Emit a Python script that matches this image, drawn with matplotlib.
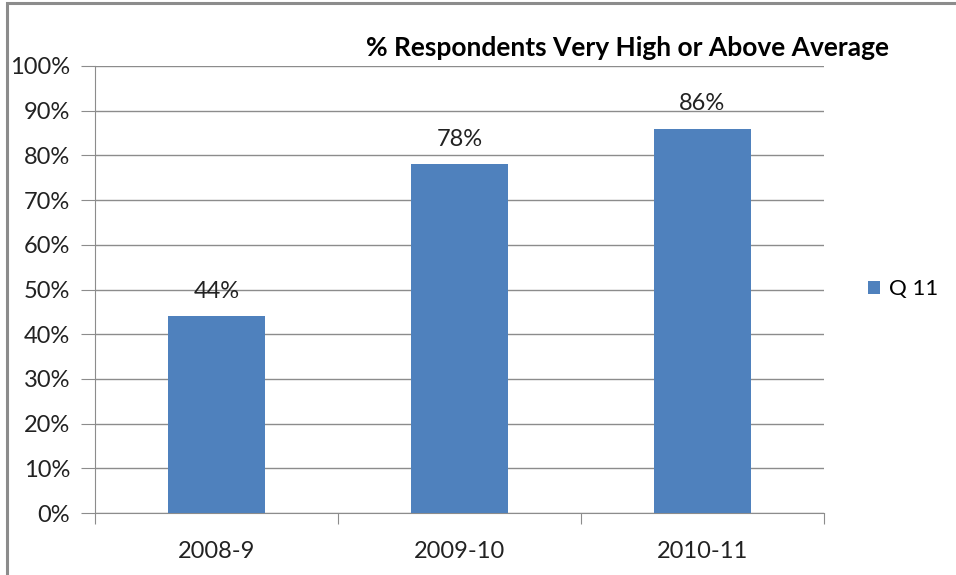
import matplotlib.pyplot as plt
from matplotlib.patches import Rectangle
from matplotlib.ticker import MultipleLocator, FuncFormatter

years = ['2008-9', '2009-10', '2010-11']
q11 = [44, 78, 86]

plt.rcParams['font.family'] = ['Lato', 'DejaVu Sans']

fig = plt.figure(figsize=(9.56, 5.75), dpi=100)
ax = fig.add_axes([95 / 956, 1 - 513 / 575, 729 / 956, 447 / 575])

# outer frame (only top and left show in the crop)
fig.add_artist(Rectangle((7 / 956, -0.1), 2, 1.1 - 3 / 575, transform=fig.transFigure,
                         fill=False, edgecolor='#8c8c8c', linewidth=2.2))

x = list(range(len(years)))
bars = ax.bar(x, q11, width=0.4, color='#4f81bd', label='Q 11', zorder=3)
for xi, v in zip(x, q11):
    ax.text(xi, v + 3.3, f'{v}%', ha='center', va='bottom', fontsize=17, color='#222222')

ax.set_xlim(-0.5, 2.5)
ax.set_ylim(0, 100)
ax.yaxis.set_major_locator(MultipleLocator(10))
ax.yaxis.set_major_formatter(FuncFormatter(lambda v, p: f'{v:.0f}%'))
ax.grid(axis='y', color='#8c8c8c', linewidth=1, zorder=0)

ax.set_xticks([-0.5, 0.5, 1.5, 2.5], minor=False)
ax.set_xticklabels([])
ax.set_xticks(x, minor=True)
ax.set_xticklabels(years, minor=True, fontsize=17, color='#222222')
ax.tick_params(axis='x', which='major', length=8, color='#8c8c8c')
ax.tick_params(axis='x', which='minor', length=0, pad=20)
ax.tick_params(axis='y', length=10, color='#8c8c8c', labelsize=17, labelcolor='#222222', pad=8)

for s in ['top', 'right']:
    ax.spines[s].set_visible(False)
for s in ['left', 'bottom']:
    ax.spines[s].set_color('#8c8c8c')

fig.text(627 / 956, 1 - 48 / 575, '% Respondents Very High or Above Average',
         ha='center', va='center', fontsize=19, fontweight='bold')

ax.legend(loc='center left', bbox_to_anchor=(1 + 44 / 729, 0.5), frameon=False, fontsize=16,
          handlelength=0.55, handleheight=0.55, handletextpad=0.4,
          borderpad=0, borderaxespad=0)

fig.savefig('out.png', dpi=100)
